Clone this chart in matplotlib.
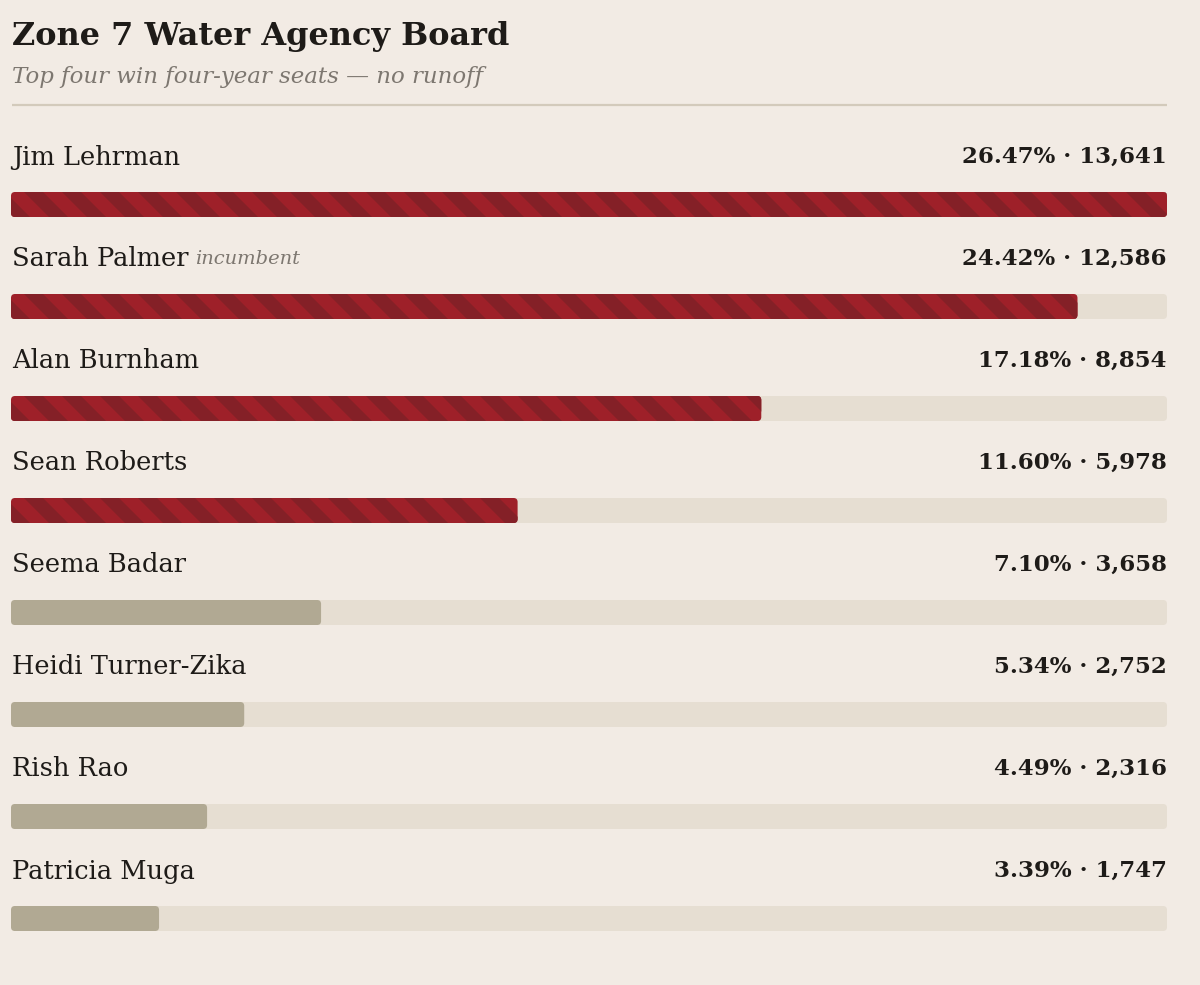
import matplotlib
matplotlib.use("Agg")
import matplotlib.pyplot as plt
from matplotlib.patches import FancyBboxPatch, Polygon
from matplotlib.collections import PatchCollection

# data
names = ["Jim Lehrman", "Sarah Palmer", "Alan Burnham", "Sean Roberts",
         "Seema Badar", "Heidi Turner-Zika", "Rish Rao", "Patricia Muga"]
pcts = [26.47, 24.42, 17.18, 11.60, 7.10, 5.34, 4.49, 3.39]
votes = [13641, 12586, 8854, 5978, 3658, 2752, 2316, 1747]
incumbent = [False, True, False, False, False, False, False, False]
n_winners = 4

title = "Zone 7 Water Agency Board"
subtitle = "Top four win four-year seats \u2014 no runoff"

BG = "#F2EBE4"
TRACK = "#E6DED2"
LOSER = "#B1A993"
RED = "#9E2029"
RED_DARK = "#842027"
INK = "#1E1B18"
GREY = "#7D7770"

W, H = 1200, 985
fig = plt.figure(figsize=(W / 100, H / 100), dpi=100, facecolor=BG)
ax = fig.add_axes([0, 0, 1, 1])
ax.set_xlim(0, W)
ax.set_ylim(H, 0)
ax.axis("off")
ax.set_facecolor(BG)

serif = "DejaVu Serif"

ax.text(12, 37, title, fontsize=23, fontweight="bold", family=serif,
        color=INK, va="center", ha="left")
ax.text(12, 77, subtitle, fontsize=16.5, style="italic", family=serif,
        color=GREY, va="center", ha="left")
ax.plot([12, 1167], [105, 105], color="#D3CABB", lw=1.6, solid_capstyle="butt")

x0, x1 = 11, 1167
full = x1 - x0
bar_h = 25
row_gap = 102
first_top = 192
pmax = max(pcts)

for i, (nm, p, v) in enumerate(zip(names, pcts, votes)):
    top = first_top + row_gap * i
    # track
    track = FancyBboxPatch((x0, top), full, bar_h,
                           boxstyle="round,pad=0,rounding_size=4",
                           fc=TRACK, ec="none", zorder=1)
    ax.add_patch(track)
    w = full * p / pmax
    winner = i < n_winners
    bar = FancyBboxPatch((x0, top), w, bar_h,
                         boxstyle="round,pad=0,rounding_size=4",
                         fc=RED if winner else LOSER, ec="none", zorder=2)
    ax.add_patch(bar)
    if winner:
        stripes = []
        period = 38
        sx = x0 - bar_h - period
        while sx < x0 + w + period:
            stripes.append(Polygon([(sx, top), (sx + period / 2, top),
                                    (sx + period / 2 + bar_h, top + bar_h),
                                    (sx + bar_h, top + bar_h)], closed=True))
            sx += period
        pc = PatchCollection(stripes, fc=RED_DARK, ec="none", zorder=3)
        ax.add_collection(pc)
        pc.set_clip_path(bar)

    ty = top - 35
    t = ax.text(12, ty, nm, fontsize=18.5, family=serif, color=INK,
                va="center", ha="left")
    if incumbent[i]:
        ax.annotate("incumbent", xy=(1, 0.5), xycoords=t,
                    xytext=(5, 0), textcoords="offset points",
                    fontsize=14, style="italic", family=serif, color=GREY,
                    va="center", ha="left")
    ax.text(1167, ty, f"{p:.2f}% \u00b7 {v:,}", fontsize=16.5, fontweight="bold",
            family=serif, color=INK, va="center", ha="right")

fig.savefig("out.png", dpi=100, facecolor=BG)
